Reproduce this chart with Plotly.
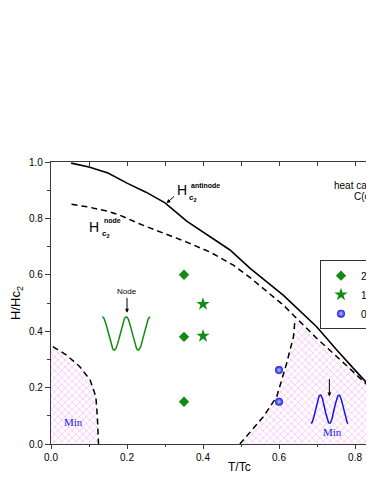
import numpy as np
import plotly.graph_objects as go

# ---------------- data ----------------
antinode_T = [0.053, 0.10, 0.15, 0.20, 0.25, 0.30, 0.357, 0.418, 0.471, 0.524, 0.611, 0.699, 0.752, 0.80, 0.848, 0.88]
antinode_H = [0.996, 0.982, 0.961, 0.925, 0.893, 0.855, 0.790, 0.737, 0.688, 0.623, 0.528, 0.416, 0.333, 0.262, 0.191, 0.145]

node_T = [0.054, 0.10, 0.15, 0.182, 0.234, 0.30, 0.357, 0.418, 0.48, 0.524, 0.611, 0.655, 0.699, 0.752, 0.80, 0.848, 0.88]
node_H = [0.850, 0.840, 0.825, 0.811, 0.780, 0.746, 0.716, 0.681, 0.634, 0.590, 0.493, 0.434, 0.375, 0.310, 0.250, 0.190, 0.145]

left_T = [0.005, 0.04, 0.076, 0.103, 0.118, 0.122, 0.125]
left_H = [0.345, 0.316, 0.274, 0.227, 0.168, 0.097, 0.0]

right_T = [0.497, 0.524, 0.559, 0.594, 0.620, 0.638, 0.642]
right_H = [0.0, 0.044, 0.097, 0.168, 0.286, 0.380, 0.440]

diamond_T = [0.35, 0.35, 0.35]
diamond_H = [0.60, 0.38, 0.15]
star_T = [0.40, 0.40]
star_H = [0.496, 0.383]
ball_T = [0.60, 0.60]
ball_H = [0.262, 0.15]
legend_labels = ["2.0", "1.5", "0.9"]

x_tickvals = [0.0, 0.2, 0.4, 0.6, 0.8]
x_ticktext = ["0.0", "0.2", "0.4", "0.6", "0.8"]
y_tickvals = [0.0, 0.2, 0.4, 0.6, 0.8, 1.0]
y_ticktext = ["0.0", "0.2", "0.4", "0.6", "0.8", "1.0"]

# ---------------- styles ----------------
GREEN = "#138a13"
BLUE = "#1515e8"
PINK = "#f07cf0"
AX = "#3a3a3a"
FONT = "Liberation Sans, Arial, sans-serif"
SERIF = "Liberation Serif, Times New Roman, serif"
XMAX = 0.871

fig = go.Figure()

hatch = dict(shape="x", fgcolor=PINK, bgcolor="white", size=5, solidity=0.28)

# left "Min" region
fig.add_trace(go.Scatter(
    x=[0.0] + left_T + [0.0], y=[left_H[0]] + left_H + [0.0],
    fill="toself", fillpattern=hatch, fillcolor="white",
    mode="lines", line=dict(width=0), showlegend=False, hoverinfo="skip"))

# right "Min" region
tail_T = [t for t in node_T if t > right_T[-1]]
tail_H = [h for t, h in zip(node_T, node_H) if t > right_T[-1]]
fig.add_trace(go.Scatter(
    x=right_T + tail_T + [tail_T[-1], right_T[0]],
    y=right_H + tail_H + [0.0, 0.0],
    fill="toself", fillpattern=hatch, fillcolor="white",
    mode="lines", line=dict(width=0), showlegend=False, hoverinfo="skip"))

dash = "6px,4px"
fig.add_trace(go.Scatter(x=left_T, y=left_H, mode="lines",
                         line=dict(color="black", width=1.5, dash=dash),
                         showlegend=False, hoverinfo="skip"))
fig.add_trace(go.Scatter(x=right_T, y=right_H, mode="lines",
                         line=dict(color="black", width=1.5, dash=dash),
                         showlegend=False, hoverinfo="skip"))
fig.add_trace(go.Scatter(x=node_T, y=node_H, mode="lines",
                         line=dict(color="black", width=1.5, dash=dash),
                         showlegend=False, hoverinfo="skip"))
fig.add_trace(go.Scatter(x=antinode_T, y=antinode_H, mode="lines",
                         line=dict(color="black", width=1.6),
                         showlegend=False, hoverinfo="skip"))

# icons (decorative waves)
t = np.linspace(0, 1, 120)
fig.add_trace(go.Scatter(x=0.135 + 0.126 * t, y=0.392 + 0.059 * np.cos(4 * np.pi * t),
                         mode="lines", line=dict(color=GREEN, width=1.5),
                         showlegend=False, hoverinfo="skip"))
fig.add_trace(go.Scatter(x=0.684 + 0.098 * t, y=0.1235 - 0.0505 * np.cos(4 * np.pi * t),
                         mode="lines", line=dict(color=BLUE, width=1.5),
                         showlegend=False, hoverinfo="skip"))

# markers
fig.add_trace(go.Scatter(x=diamond_T, y=diamond_H, mode="markers", name=legend_labels[0],
                         marker=dict(symbol="diamond", size=8, color=GREEN)))
fig.add_trace(go.Scatter(x=star_T, y=star_H, mode="markers", name=legend_labels[1],
                         marker=dict(symbol="star", size=10, color=GREEN)))
fig.add_trace(go.Scatter(x=ball_T, y=ball_H, mode="markers", name=legend_labels[2],
                         marker=dict(symbol="circle", size=8, color=BLUE,
                                     gradient=dict(type="radial", color="#b8c8ff"))))

# top axis ticks (inside)
fig.add_trace(go.Scatter(x=[0, XMAX], y=[None, None], xaxis="x2", showlegend=False, hoverinfo="skip"))

ann = []
def A(x, y, text, size, **kw):
    d = dict(x=x, y=y, xref="x", yref="y", text=text, showarrow=False,
             font=dict(family=FONT, size=size, color="black"))
    d.update(kw)
    ann.append(d)

# H_c2^antinode label
A(0.346, 0.901, "H", 14)
A(0.364, 0.918, "<b>antinode</b>", 7, xanchor="left")
A(0.359, 0.871, "<b>c<sub>2</sub></b>", 8, xanchor="left")
ann.append(dict(x=0.304, y=0.854, xref="x", yref="y", text="", showarrow=True,
                ax=9, ay=-8, arrowhead=2, arrowsize=0.8, arrowwidth=1, arrowcolor="black"))
# H_c2^node label
A(0.112, 0.771, "H", 14)
A(0.133, 0.792, "<b>node</b>", 7, xanchor="left")
A(0.129, 0.745, "<b>c<sub>2</sub></b>", 8, xanchor="left")

# Node icon label + arrow
ann.append(dict(x=0.2, y=0.465, xref="x", yref="y", text="Node", showarrow=True,
                ax=0, ay=-21, arrowhead=2, arrowsize=0.8, arrowwidth=1, arrowcolor="black",
                font=dict(family=FONT, size=8, color="black")))
# Min arrow (right)
ann.append(dict(x=0.7325, y=0.168, xref="x", yref="y", text="", showarrow=True,
                ax=0, ay=-19, arrowhead=2, arrowsize=0.8, arrowwidth=1, arrowcolor="black"))
A(0.7415, 0.041, "Min", 11, font=dict(family=SERIF, size=11, color=BLUE))
A(0.060, 0.078, "Min", 11, font=dict(family=SERIF, size=11, color=BLUE))

# heat capacity text (clipped at right edge, as in the reference)
A(0.822, 0.917, "heat capacity", 10)
A(0.822, 0.878, "C(ϕ)", 10)

# x title
ann.append(dict(x=0.497, y=-0.083, xref="x", yref="paper", text="T/Tc", showarrow=False,
                yanchor="middle", font=dict(family=FONT, size=12, color="black")))

fig.update_layout(
    width=374, height=484,
    margin=dict(l=43, r=0, t=154, b=48),
    paper_bgcolor="white", plot_bgcolor="white",
    font=dict(family=FONT, size=10, color="black"),
    annotations=ann,
    showlegend=True,
    legend=dict(x=(320 - 51) / (XMAX * 380), y=0.652, xanchor="left", yanchor="top",
                bgcolor="white", bordercolor="#333", borderwidth=1,
                font=dict(family=FONT, size=10, color="black"),
                itemwidth=30),
    xaxis=dict(range=[0, XMAX], tickvals=x_tickvals, ticktext=x_ticktext,
               ticks="outside", ticklen=4, tickwidth=1, tickcolor=AX,
               minor=dict(dtick=0.1, tick0=0, ticks="outside", ticklen=2, tickcolor=AX),
               showline=True, linecolor=AX, linewidth=1.2, showgrid=False, zeroline=False,
               tickfont=dict(size=10), fixedrange=True),
    xaxis2=dict(range=[0, XMAX], overlaying="x", side="top", anchor="y",
                tickvals=x_tickvals, showticklabels=False,
                ticks="inside", ticklen=4, tickwidth=1, tickcolor=AX,
                minor=dict(dtick=0.1, tick0=0, ticks="inside", ticklen=4, tickcolor=AX),
                showline=True, linecolor=AX, linewidth=1.2, showgrid=False, zeroline=False),
    yaxis=dict(range=[0, 1.0], tickvals=y_tickvals, ticktext=y_ticktext,
               ticks="outside", ticklen=5, tickwidth=1, tickcolor=AX,
               minor=dict(dtick=0.1, tick0=0, ticks="outside", ticklen=3, tickcolor=AX),
               showline=True, linecolor=AX, linewidth=1.2, showgrid=False, zeroline=False,
               tickfont=dict(size=10),
               title=dict(text="H/Hc<sub>2</sub>", font=dict(size=13), standoff=8)),
)

fig.write_html("out.html")
